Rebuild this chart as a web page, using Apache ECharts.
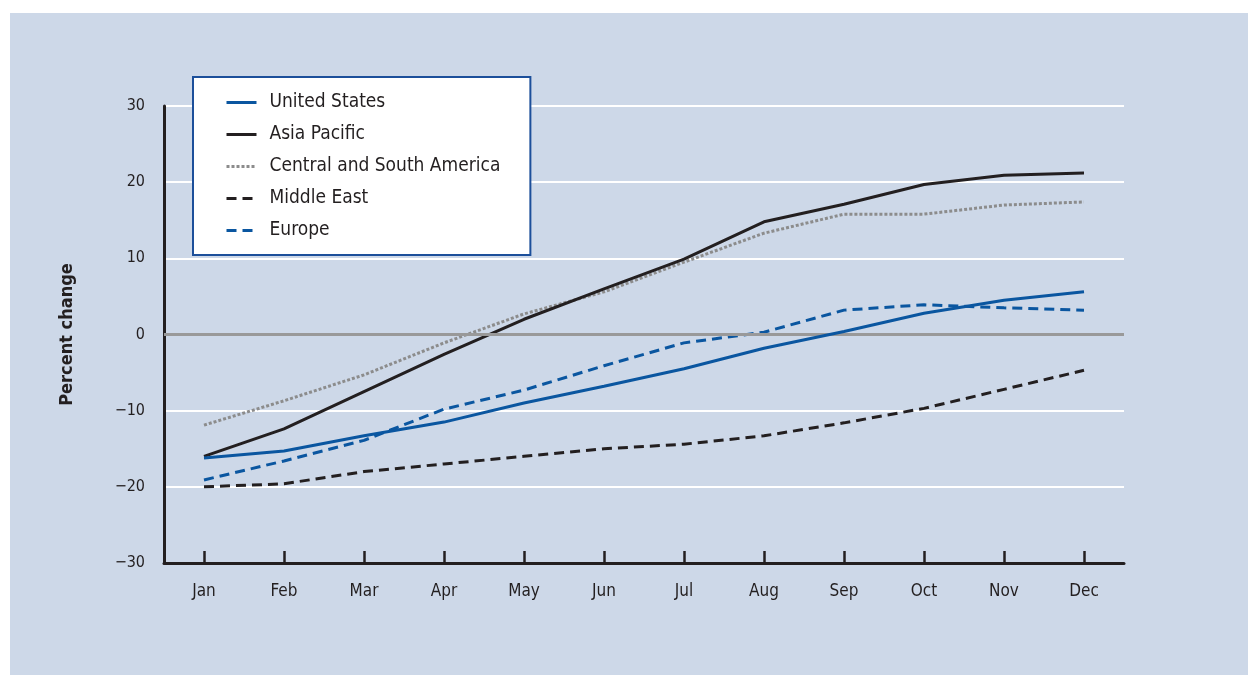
<!DOCTYPE html>
<html><head><meta charset="utf-8">
<script src="https://cdn.jsdelivr.net/npm/echarts@6/dist/echarts.min.js"></script>
<style>
html,body{margin:0;padding:0;background:#fff;}
#panel{position:absolute;left:10px;top:13px;width:1238px;height:662px;background:#cdd8e8;}
#chart{position:absolute;left:0;top:0;width:1248px;height:675px;}
</style></head>
<body><div id="panel"></div><div id="chart"></div>
<script>
const months = ['Jan','Feb','Mar','Apr','May','Jun','Jul','Aug','Sep','Oct','Nov','Dec'];
const unitedStates = [-16.2,-15.3,-13.3,-11.5,-9.0,-6.8,-4.5,-1.8,0.4,2.8,4.5,5.6];
const asiaPacific = [-16.0,-12.4,-7.5,-2.6,2.0,6.0,9.9,14.8,17.1,19.7,20.9,21.2];
const centralSouthAmerica = [-11.9,-8.7,-5.3,-1.1,2.7,5.6,9.5,13.3,15.8,15.8,17.0,17.4];
const middleEast = [-20.0,-19.6,-18.0,-17.0,-16.0,-15.0,-14.4,-13.3,-11.6,-9.7,-7.2,-4.7];
const europe = [-19.1,-16.6,-13.9,-9.8,-7.3,-4.1,-1.1,0.3,3.2,3.9,3.5,3.2];
const yMin = -30, yMax = 30, yStep = 10;

const FONT = "'Liberation Sans Narrow','DejaVu Sans Condensed','Roboto',sans-serif";
const TXT = '#231f20';
const BLUE = '#0a56a0';
const BLACK = '#231f20';
const GRAY = '#8c8c8c';

function mk(name, data, color, type, z) {
  return {
    name, type: 'line', data, symbol: 'none', smooth: false, z: z,
    lineStyle: { color, width: 3, type },
    itemStyle: { color }
  };
}

const chart = echarts.init(document.getElementById('chart'));
chart.setOption({
  backgroundColor: 'transparent',
  animation: false,
  textStyle: { fontFamily: FONT },
  grid: { left: 164, right: 124, top: 106, bottom: 112, containLabel: false },
  legend: {
    orient: 'vertical', left: 193, top: 77,
    backgroundColor: '#fff', borderColor: '#1c4f9a', borderWidth: 2,
    padding: [16, 30, 15, 32],
    itemWidth: 30, itemHeight: 14, itemGap: 13,
    itemStyle: { opacity: 0 },
    lineStyle: { width: 3 },
    textStyle: { fontFamily: FONT, fontSize: 19, color: TXT, padding: [0,0,0,8] },
    data: ['United States','Asia Pacific','Central and South America','Middle East','Europe']
  },
  xAxis: {
    type: 'category', data: months, boundaryGap: true,
    axisLine: { show: true, onZero: false, lineStyle: { color: BLACK, width: 3 } },
    axisTick: { show: true, alignWithLabel: true, inside: true, length: 12, lineStyle: { color: BLACK, width: 2.5 } },
    axisLabel: { margin: 20, fontSize: 17, color: TXT, fontFamily: FONT },
    splitLine: { show: false }
  },
  yAxis: {
    type: 'value', min: yMin, max: yMax, interval: yStep,
    name: 'Percent change', nameLocation: 'middle', nameGap: 88, nameRotate: 90,
    nameTextStyle: { fontFamily: FONT, fontSize: 18, fontWeight: 'bold', color: TXT },
    axisLine: { show: true, onZero: false, lineStyle: { color: BLACK, width: 3 } },
    axisTick: { show: false },
    axisLabel: { margin: 19, fontSize: 16, color: TXT, fontFamily: FONT,
      formatter: v => String(v).replace('-', '\u2212') },
    splitLine: { show: true, lineStyle: { color: '#ffffff', width: 2 } }
  },
  series: [
    { name: 'zero', type: 'line', data: [], z: 1, silent: true,
      markLine: { silent: true, symbol: 'none', label: { show: false },
        lineStyle: { color: '#999999', width: 3, type: 'solid' },
        data: [{ yAxis: 0 }] } },
    mk('Middle East', middleEast, BLACK, [10, 6], 3),
    mk('Central and South America', centralSouthAmerica, GRAY, [3, 2], 3),
    mk('Asia Pacific', asiaPacific, BLACK, 'solid', 4),
    mk('Europe', europe, BLUE, [10, 6], 4),
    mk('United States', unitedStates, BLUE, 'solid', 5)
  ]
});
</script></body></html>
